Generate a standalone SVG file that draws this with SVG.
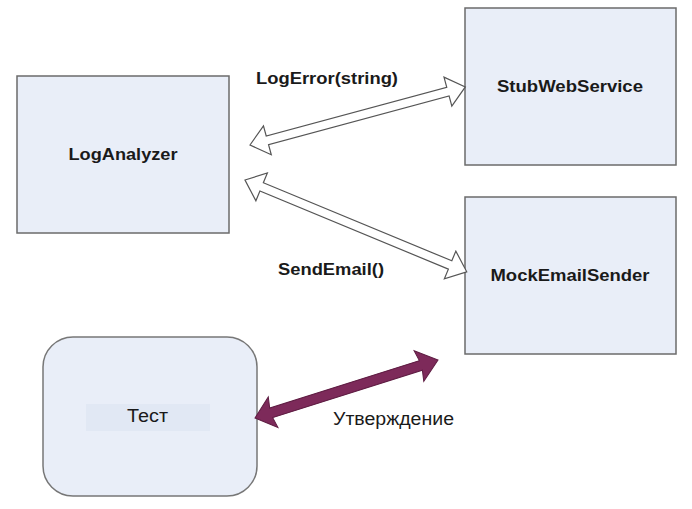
<svg xmlns="http://www.w3.org/2000/svg" width="692" height="509" viewBox="0 0 692 509">
<style>
.box{fill:#e9eef8;stroke:#6b6b6b;stroke-width:1.5}
.tbox{fill:#e9eef8;stroke:#777;stroke-width:1.5}
.lbl{font-family:"Liberation Sans",Arial,sans-serif;font-weight:bold;font-size:17px;fill:#1a1a1a;text-anchor:middle}
.reg{font-family:"Liberation Sans",Arial,sans-serif;font-size:18px;fill:#1a1a1a}
.hollow{fill:#ffffff;stroke:#555;stroke-width:1.2;stroke-linejoin:miter}
.solid{fill:#7d2a5a;stroke:#5e1c42;stroke-width:1}
</style>
<rect width="692" height="509" fill="#ffffff"/>
<g id="LogAnalyzer">
<rect class="box" x="17" y="76" width="212" height="157"/>
<text class="lbl" x="123" y="160" textLength="109" lengthAdjust="spacingAndGlyphs">LogAnalyzer</text>
</g>
<g id="StubWebService">
<rect class="box" x="465" y="8" width="211" height="157"/>
<text class="lbl" x="570" y="92" textLength="146" lengthAdjust="spacingAndGlyphs">StubWebService</text>
</g>
<g id="MockEmailSender">
<rect class="box" x="465" y="197" width="211" height="157"/>
<text class="lbl" x="570" y="281" textLength="159" lengthAdjust="spacingAndGlyphs">MockEmailSender</text>
</g>
<g id="Test">
<rect class="tbox" x="43" y="337" width="214" height="159" rx="30" ry="30"/>
<rect x="86" y="404" width="124" height="27" fill="#e1e8f4"/>
<text class="reg" x="127" y="422" textLength="41" lengthAdjust="spacingAndGlyphs">Тест</text>
</g>
<g id="connectors">
<polygon class="hollow" transform="translate(250,145) rotate(-15.1)" points="0,0 18,-15 18,-4.5 205,-4.5 205,-15 223,0 205,15 205,4.5 18,4.5 18,15"/>
<polygon class="hollow" transform="translate(245,180) rotate(22.5)" points="0,0 18,-15 18,-4.5 222,-4.5 222,-15 240,0 222,15 222,4.5 18,4.5 18,15"/>
<polygon class="solid" transform="translate(255,418) rotate(-17.6)" points="0,0 19,-16 17,-5 174,-5 172,-16 192,0 172,16 174,5 17,5 19,16"/>
<text class="lbl" x="327" y="84" textLength="142" lengthAdjust="spacingAndGlyphs">LogError(string)</text>
<text class="lbl" x="331" y="275" textLength="106" lengthAdjust="spacingAndGlyphs">SendEmail()</text>
<text class="reg" x="333" y="425" textLength="121" lengthAdjust="spacingAndGlyphs">Утверждение</text>
</g>
</svg>
